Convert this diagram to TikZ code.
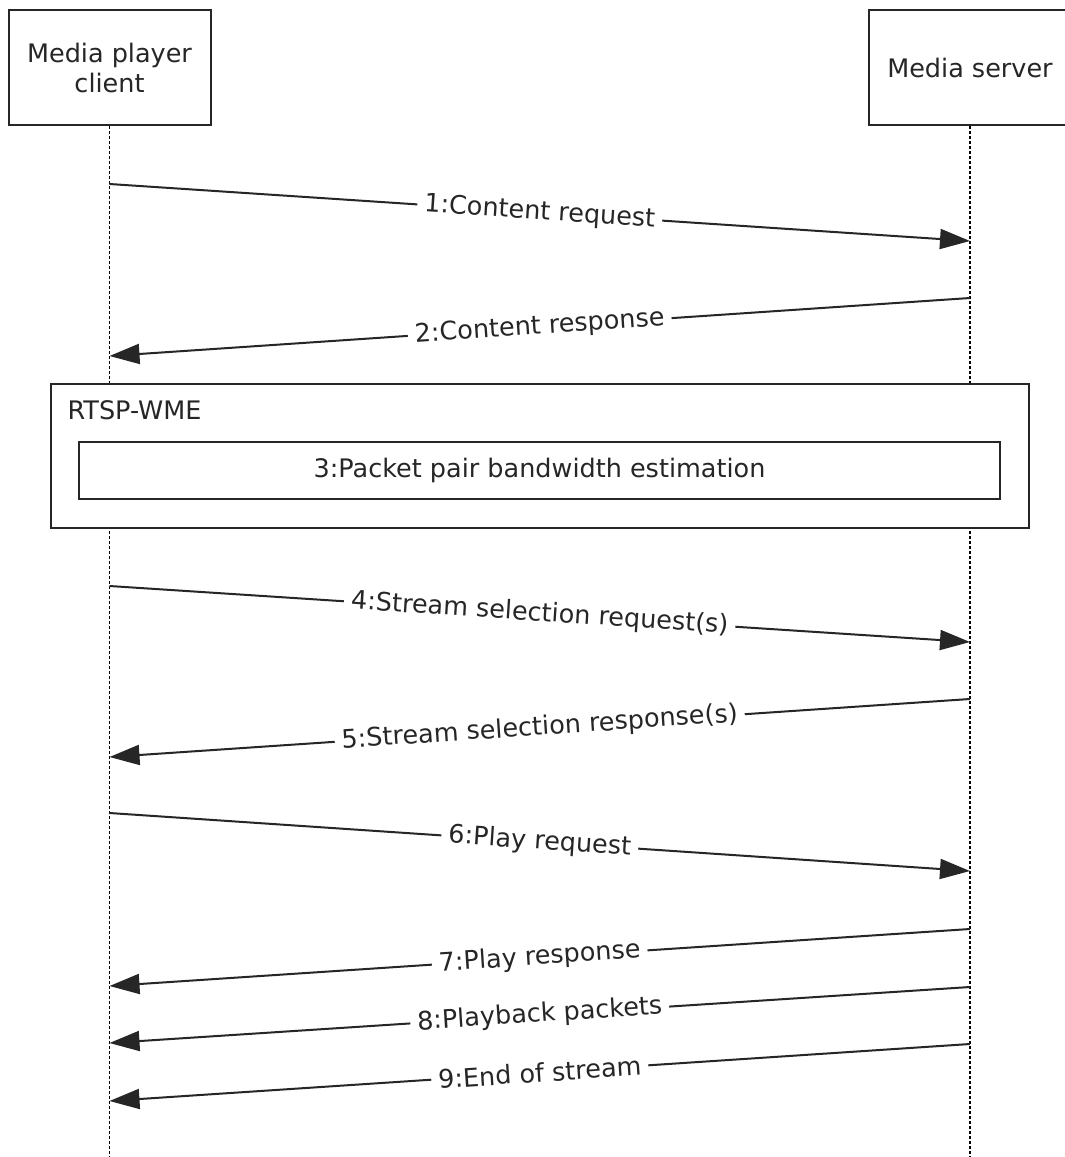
\documentclass[tikz,border=0pt]{standalone}
\usepackage{fontspec}
\setmainfont{DejaVu Sans}
\usetikzlibrary{arrows.meta}
\begin{document}
\begin{tikzpicture}[x=1pt,y=-1pt,
  every node/.style={font=\fontsize{25.5}{30}\selectfont, text=black!85},
  actor/.style={draw=black!85, line width=2pt, fill=white, minimum width=202pt, minimum height=115pt, align=center, inner sep=0pt},
  life/.style={draw=black, line width=1.8pt, dash pattern=on 3pt off 2pt},
  msg/.style={draw=black!85, line width=2pt, -{Triangle[length=30pt,width=20pt]}},
  lbl/.style={fill=white, sloped, inner xsep=7pt, inner ysep=1pt, pos=0.5},
  frame/.style={draw=black!85, line width=2pt, fill=white, inner sep=0pt},
]
\useasboundingbox (0,0) rectangle (1065,1157);
\fill[white] (0,0) rectangle (1065,1157);

\node[actor] (client) at (109.5,67.5) {Media player\\client};
\node[actor] (server) at (970,67.5) {Media server};

\coordinate (cEnd) at (109.5,1157);
\coordinate (sEnd) at (970,1157);
\draw[life] (client.south) -- (cEnd);
\draw[life] (server.south) -- (sEnd);

% RTSP-WME frame
\node[frame, minimum width=978pt, minimum height=144pt] (rtsp) at (540,456) {};
\node[anchor=base west] (rtspLbl) at (64,419) {RTSP-WME};
\node[frame, minimum width=921pt, minimum height=57pt] (pp) at (539.5,470.5) {3:Packet pair bandwidth estimation};

% message end points
\coordinate (c1) at (109.5,184);  \coordinate (s1) at (970,241);
\coordinate (s2) at (970,298);    \coordinate (c2) at (109.5,356);
\coordinate (c4) at (109.5,586);  \coordinate (s4) at (970,642);
\coordinate (s5) at (970,699);    \coordinate (c5) at (109.5,757);
\coordinate (c6) at (109.5,813);  \coordinate (s6) at (970,871);
\coordinate (s7) at (970,929);    \coordinate (c7) at (109.5,986);
\coordinate (s8) at (970,987);    \coordinate (c8) at (109.5,1043);
\coordinate (s9) at (970,1044);   \coordinate (c9) at (109.5,1101);

\draw[msg] (c1) -- node[lbl] (l1) {1:Content request} (s1);
\draw[msg] (s2) -- node[lbl] (l2) {2:Content response} (c2);
\draw[msg] (c4) -- node[lbl] (l4) {4:Stream selection request(s)} (s4);
\draw[msg] (s5) -- node[lbl] (l5) {5:Stream selection response(s)} (c5);
\draw[msg] (c6) -- node[lbl] (l6) {6:Play request} (s6);
\draw[msg] (s7) -- node[lbl] (l7) {7:Play response} (c7);
\draw[msg] (s8) -- node[lbl] (l8) {8:Playback packets} (c8);
\draw[msg] (s9) -- node[lbl] (l9) {9:End of stream} (c9);
\end{tikzpicture}
\end{document}
